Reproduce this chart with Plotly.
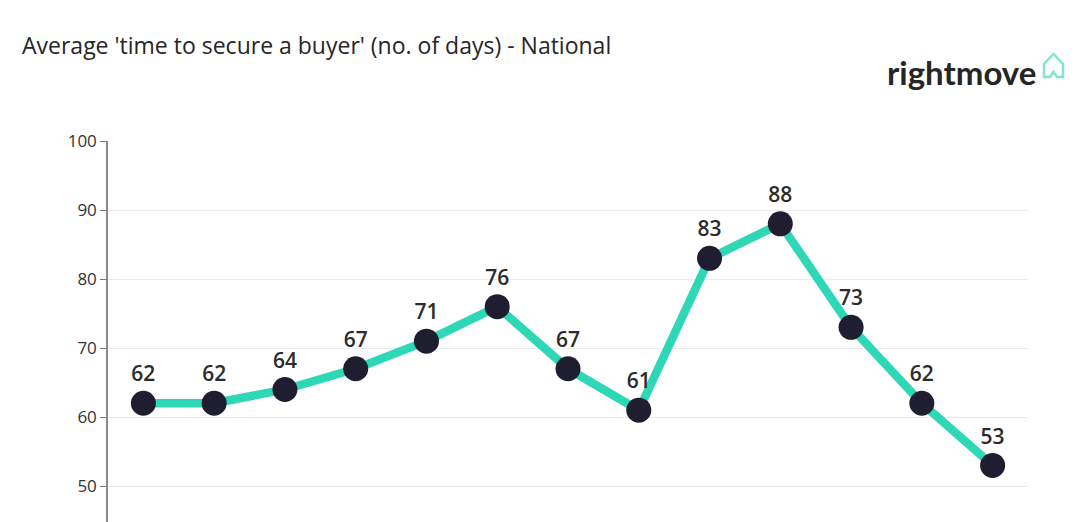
import plotly.graph_objects as go

categories = [str(i) for i in range(1, 14)]
days = [62, 62, 64, 67, 71, 76, 67, 61, 83, 88, 73, 62, 53]
y_ticks = [50, 60, 70, 80, 90, 100]

# page body has an 8px offset; targets below are page pixel coords
OFF = 8
W, H = 1080, 522
L, R, T, B = 108 - OFF, W - (1028 - OFF), 141 - OFF, OFF
pw, ph = W - L - R, H - T - B

def px(x):
    return (x - OFF - L) / pw

def py(y):
    return (H - B - (y - OFF)) / ph

fig = go.Figure()
fig.add_trace(go.Scatter(
    x=categories, y=days, mode="lines+markers+text",
    line=dict(color="#2ed8b6", width=8.5),
    marker=dict(color="#1e1e30", size=25),
    text=[str(v) for v in days], textposition="top center",
    textfont=dict(family="Open Sans", size=21, color="#2b2b2b", weight=600),
    cliponaxis=False, showlegend=False,
))

# house icon next to logo
hx = [1044, 1044, 1053.5, 1063, 1063, 1057, 1053.5, 1050, 1044]
hy = [77, 64, 54, 64, 77, 77, 72, 77, 77]
path = "M " + " L ".join(f"{px(a):.5f},{py(b):.5f}" for a, b in zip(hx, hy)) + " Z"
fig.add_shape(type="path", path=path, xref="paper", yref="paper",
              line=dict(color="#7fe6d2", width=2.5))

fig.add_annotation(text="Average 'time to secure a buyer' (no. of days) - National",
                   x=px(20), y=py(45), xref="paper", yref="paper",
                   xanchor="left", yanchor="middle", showarrow=False,
                   font=dict(family="Open Sans", size=23, color="#262626"))
fig.add_annotation(text="<b>rightmove</b>",
                   x=px(1038), y=py(72), xref="paper", yref="paper",
                   xanchor="right", yanchor="middle", showarrow=False,
                   font=dict(family="Lato", size=33, color="#262626"))

fig.update_layout(
    width=W, height=H, margin=dict(l=L, r=R, t=T, b=B),
    paper_bgcolor="white", plot_bgcolor="white",
    xaxis=dict(type="category", range=[-0.5, 12.5], showticklabels=False,
               showgrid=False, zeroline=False, ticks=""),
    yaxis=dict(range=[44.8, 100], tickvals=y_ticks, showgrid=True,
               gridcolor="#ebebeb", gridwidth=1, zeroline=False,
               showline=True, linecolor="#8a8a8a", linewidth=1.5,
               ticks="outside", ticklen=6, tickcolor="#777777", tickwidth=1.2,
               tickfont=dict(family="Open Sans", size=17, color="#333333")),
)
fig.write_html("out.html")
